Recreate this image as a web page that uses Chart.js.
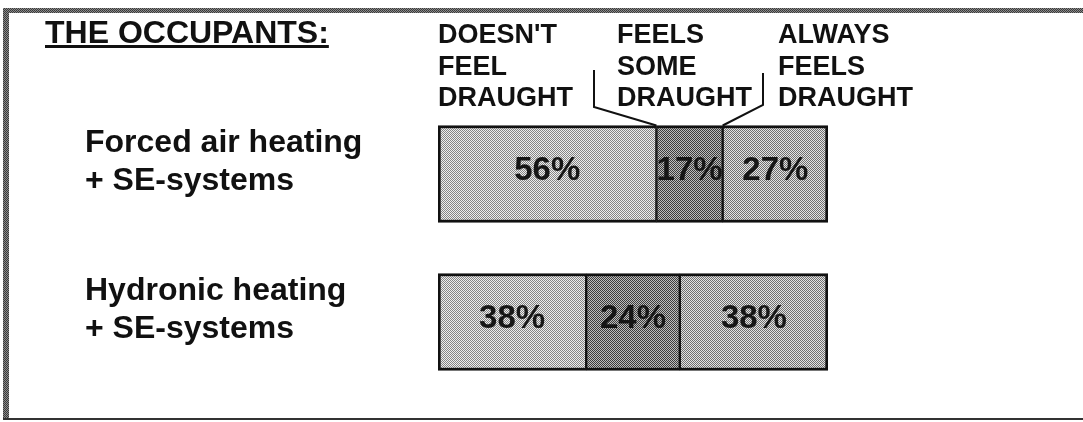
<!DOCTYPE html>
<html>
<head>
<meta charset="utf-8">
<script src="https://cdn.jsdelivr.net/npm/chart.js@4/dist/chart.umd.min.js"></script>
<style>
  html, body { margin: 0; padding: 0; background: #fff; }
  #wrap { width: 1083px; height: 422px; position: relative; }
</style>
</head>
<body>
<div id="wrap"><canvas id="graphOne"></canvas></div>
<script>
var titleText = 'THE OCCUPANTS:';
var systems = [
  ['Forced air heating', '+ SE-systems'],
  ['Hydronic heating', '+ SE-systems']
];
var responses = [
  ["DOESN'T", 'FEEL', 'DRAUGHT'],
  ['FEELS', 'SOME', 'DRAUGHT'],
  ['ALWAYS', 'FEELS', 'DRAUGHT']
];
var noDraught = [56, 38];
var someDraught = [17, 24];
var alwaysDraught = [27, 38];

var FONT = '"Liberation Sans", Arial, Helvetica, sans-serif';
var canvas = document.getElementById('graphOne');

// 2x2 checker to fake the printed halftone
var halftone = (dark, light) => {
    var c = document.createElement('canvas');
    c.width = 2;
    c.height = 2;
    var g = c.getContext('2d');
    g.fillStyle = light;
    g.fillRect(0, 0, 2, 2);
    g.fillStyle = dark;
    g.fillRect(0, 0, 1, 1);
    g.fillRect(1, 1, 1, 1);
    return canvas.getContext('2d').createPattern(c, 'repeat');
}

var frame = {
    id: 'frame',
    beforeDraw: (chart) => {
        var ctx = chart.ctx;
        ctx.save();
        ctx.fillStyle = halftone('#3a3a3a', '#8a8a8a');
        ctx.fillRect(3, 8, 1080, 5);
        ctx.fillRect(3, 8, 6, 412);
        ctx.fillStyle = '#333';
        ctx.fillRect(3, 418, 1080, 2);
        ctx.restore();
    }
}

var headers = {
    id: 'headers',
    afterDraw: (chart) => {
        var ctx = chart.ctx;
        var area = chart.chartArea;
        ctx.save();

        // title + underline
        ctx.fillStyle = '#111';
        ctx.font = 'bold 32px ' + FONT;
        ctx.textBaseline = 'alphabetic';
        ctx.fillText(titleText, 45, 43);
        ctx.fillRect(45, 45, ctx.measureText(titleText).width, 3);

        // column headings
        var cols = [area.left, area.left + 179, area.left + 340];
        ctx.font = 'bold 27px ' + FONT;
        responses.forEach((lines, i) => {
            lines.forEach((txt, k) => {
                ctx.fillText(txt, cols[i], 43 + k * 31.5);
            });
        });

        // bracket lines to the middle segment of the first bar
        var first = chart.getDatasetMeta(0).data[0];
        var second = chart.getDatasetMeta(1).data[0];
        var barTop = first.y - first.height / 2;
        ctx.strokeStyle = '#111';
        ctx.lineWidth = 2;
        ctx.beginPath();
        ctx.moveTo(area.left + 156, 70);
        ctx.lineTo(area.left + 156, 107);
        ctx.lineTo(first.x, barTop);
        ctx.moveTo(area.left + 325, 73);
        ctx.lineTo(area.left + 325, 105);
        ctx.lineTo(second.x, barTop);
        ctx.stroke();
        ctx.restore();
    }
}

var percentLabels = {
    id: 'percentLabels',
    afterDatasetsDraw: (chart) => {
        var ctx = chart.ctx;
        ctx.save();
        ctx.font = 'bold 33px ' + FONT;
        ctx.fillStyle = '#161616';
        ctx.textAlign = 'center';
        ctx.textBaseline = 'middle';
        chart.data.datasets.forEach((ds, i) => {
            chart.getDatasetMeta(i).data.forEach((bar, j) => {
                ctx.fillText(ds.data[j] + '%', (bar.base + bar.x) / 2, bar.y - 3);
            });
        });
        ctx.restore();
    }
}

new Chart(canvas, {
    type: 'bar',
    data: {
        labels: systems,
        datasets: [{
            label: responses[0].join(' '),
            data: noDraught,
            backgroundColor: halftone('#858585', '#eeeeee'),
            borderWidth: { top: 3, bottom: 3, left: 3, right: 1.5 }
        }, {
            label: responses[1].join(' '),
            data: someDraught,
            backgroundColor: halftone('#3c3c3c', '#bdbdbd'),
            borderWidth: { top: 3, bottom: 3, left: 1.5, right: 1.5 }
        }, {
            label: responses[2].join(' '),
            data: alwaysDraught,
            backgroundColor: halftone('#707070', '#e4e4e4'),
            borderWidth: { top: 3, bottom: 3, left: 1.5, right: 3 }
        }]
    },
    options: {
        indexAxis: 'y',
        responsive: true,
        maintainAspectRatio: false,
        animation: false,
        layout: {
            padding: { left: 85, right: 255, top: 100, bottom: 26 }
        },
        datasets: {
            bar: {
                barThickness: 97,
                borderColor: '#111',
                borderSkipped: false
            }
        },
        plugins: {
            legend: { display: false },
            tooltip: { enabled: false }
        },
        scales: {
            x: {
                stacked: true,
                min: 0,
                max: 100,
                display: false
            },
            y: {
                stacked: true,
                grid: { display: false },
                border: { display: false },
                ticks: {
                    crossAlign: 'far',
                    labelOffset: -12,
                    color: '#111',
                    font: { family: FONT, size: 32, weight: 'bold', lineHeight: 1.17 }
                },
                afterFit: (axis) => {
                    axis.width = 353;
                    axis.paddingTop = 0;
                    axis.paddingBottom = 0;
                }
            }
        }
    },
    plugins: [frame, headers, percentLabels]
});
</script>
</body>
</html>
